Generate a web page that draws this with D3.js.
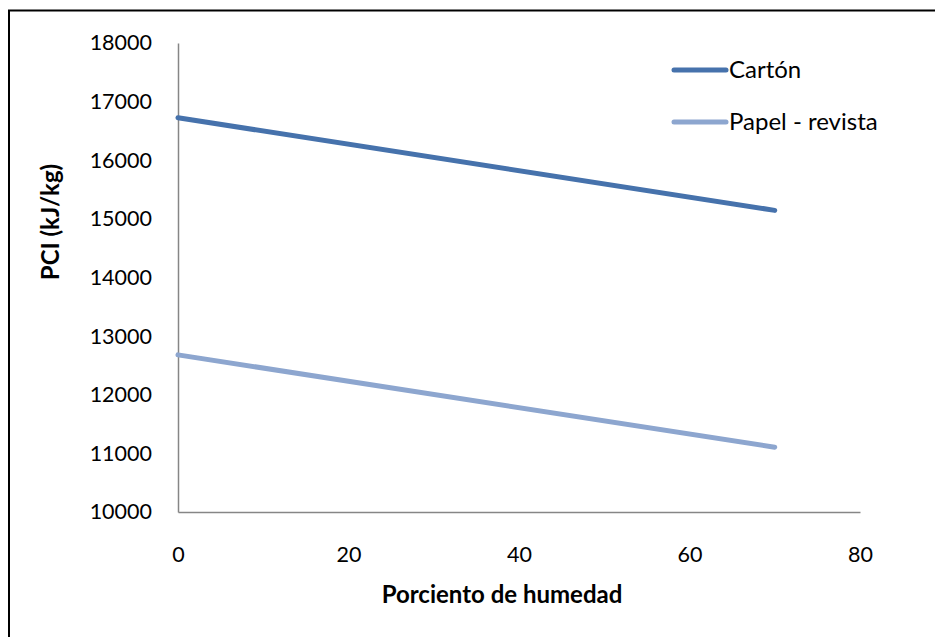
<!DOCTYPE html>
<html><head><meta charset="utf-8">
<script src="https://cdn.jsdelivr.net/npm/d3@7"></script>
<style>body{margin:0;background:#fff}svg{display:block}text{font-family:Lato,"Open Sans",sans-serif}</style>
</head><body><svg id="c" width="935" height="637"></svg>
<script>
const humedad = [0, 70];
const carton = [16725, 15145];
const papel = [12680, 11105];
const seriesNames = ["Cartón", "Papel - revista"];
const xTicks = [0, 20, 40, 60, 80];
const yTicks = [10000, 11000, 12000, 13000, 14000, 15000, 16000, 17000, 18000];
const colors = ["#4672AC", "#8DA6CF"];

const svg = d3.select("#c");
svg.append("rect").attr("x", 9).attr("y", 10.5).attr("width", 1000).attr("height", 1000)
  .attr("fill", "#fff").attr("stroke", "#000").attr("stroke-width", 2);

const x = d3.scaleLinear().domain([0, 80]).range([178, 860]);
const y = d3.scaleLinear().domain([10000, 18000]).range([512, 43]);

const yAxis = svg.append("g").attr("transform", `translate(${x(0)},0)`)
  .call(d3.axisLeft(y).tickValues(yTicks).tickSize(0).tickPadding(26).tickFormat(d3.format("d")));
const xAxis = svg.append("g").attr("transform", `translate(0,${y(10000)})`)
  .call(d3.axisBottom(x).tickValues(xTicks).tickSize(0).tickPadding(35).tickFormat(d3.format("d")));
[yAxis, xAxis].forEach(g => {
  g.select(".domain").attr("stroke", "#868686").attr("stroke-width", 1.5);
  g.selectAll("text").attr("font-size", 21.5).attr("fill", "#000").attr("font-family", "Lato, sans-serif");
});

const data = [carton, papel];
const line = d3.line().x((d, i) => x(humedad[i])).y(d => y(d));
data.forEach((s, k) => {
  svg.append("path").datum(s).attr("d", line).attr("fill", "none")
    .attr("stroke", colors[k]).attr("stroke-width", 5).attr("stroke-linecap", "round");
});

// Legend
const lg = svg.append("g");
seriesNames.forEach((n, k) => {
  const ly = 70 + k * 52;
  lg.append("line").attr("x1", 674).attr("x2", 726).attr("y1", ly).attr("y2", ly)
    .attr("stroke", colors[k]).attr("stroke-width", 5).attr("stroke-linecap", "round");
  lg.append("text").attr("x", 729).attr("y", ly + 8).attr("font-size", 24).attr("fill", "#000").text(n);
});

svg.append("text").attr("x", 502).attr("y", 603).attr("text-anchor", "middle")
  .attr("font-size", 24).attr("font-weight", "bold").attr("fill", "#000").text("Porciento de humedad");
svg.append("text").attr("transform", "translate(59,222) rotate(-90)").attr("text-anchor", "middle")
  .attr("font-size", 24).attr("font-weight", "bold").attr("fill", "#000").text("PCI (kJ/kg)");
</script></body></html>
